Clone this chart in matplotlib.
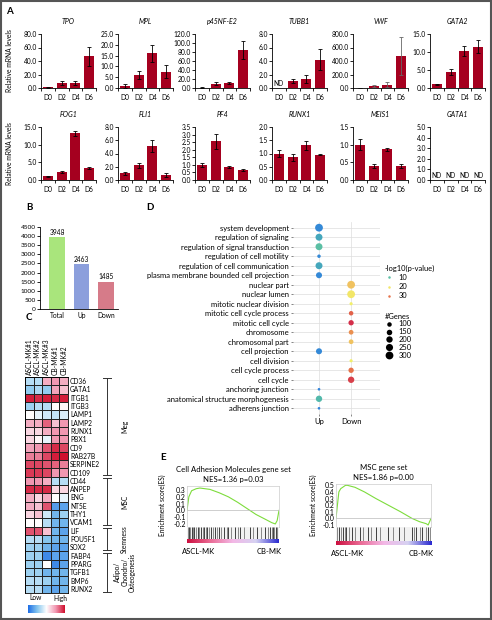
import matplotlib.pyplot as plt
import numpy as np
from matplotlib.colors import LinearSegmentedColormap, Normalize
from matplotlib.lines import Line2D
from matplotlib.patches import Rectangle

plt.rcParams['font.family'] = ['Lato', 'DejaVu Sans']
plt.rcParams['font.size'] = 5

W, H = 492, 620


def rect(x0, y0, x1, y1):
    # pixel box -> figure fraction
    return [x0 / W, 1 - y1 / H, (x1 - x0) / W, (y1 - y0) / H]


# --- panel A data ---
days = ['D0', 'D2', 'D4', 'D6']
tpo = [1, 8, 8, 47]; tpo_err = [0.5, 3, 3, 14]
mpl_ = [0.8, 6, 16, 7.5]; mpl_err = [1, 2, 4, 3]
p45 = [1, 10, 11, 84]; p45_err = [0.5, 3, 2, 20]
tubb1 = [0, 1.0, 1.4, 4.2]; tubb1_err = [0, 0.3, 0.6, 1.6]
vwf = [5, 30, 50, 475]; vwf_err = [2, 10, 40, 280]
gata2 = [1, 4.5, 10.3, 11.5]; gata2_err = [0.2, 0.9, 1.3, 1.8]
fog1 = [1, 2.2, 13.2, 3.4]; fog1_err = [0.1, 0.3, 0.8, 0.3]
fli1 = [1, 2.2, 5.2, 0.8]; fli1_err = [0.2, 0.4, 0.9, 0.3]
pf4 = [1.0, 2.55, 0.85, 0.65]; pf4_err = [0.12, 0.5, 0.05, 0.05]
runx1 = [1.0, 0.85, 1.32, 0.95]; runx1_err = [0.12, 0.12, 0.17, 0.02]
meis1 = [1.0, 0.4, 0.87, 0.4]; meis1_err = [0.15, 0.06, 0.04, 0.06]
gata1 = [0, 0, 0, 0]; gata1_err = [0, 0, 0, 0]

# --- panel B data ---
deg_cats = ['Total', 'Up', 'Down']
deg_counts = [3948, 2463, 1485]
deg_colors = ['#a9e57c', '#8c9fdc', '#d67b89']

# --- panel C data ---
samples = ['ASCL-MK#1', 'ASCL-MK#2', 'ASCL-MK#3', 'CB-MK#1', 'CB-MK#2']
hm_genes = ['CD36', 'GATA1', 'ITGB1', 'ITGB3', 'LAMP1', 'LAMP2', 'RUNX1', 'PBX1',
            'CD9', 'RAB27B', 'SERPINE2', 'CD109', 'CD44', 'ANPEP', 'ENG', 'NT5E',
            'THY1', 'VCAM1', 'LIF', 'POU5F1', 'SOX2', 'FABP4', 'PPARG', 'TGFB1',
            'BMP6', 'RUNX2']
hm_values = [
    [-0.3, -0.3, 0.4, 0.5, 0.4],
    [-0.45, -0.35, -0.45, 0.45, 0.3],
    [0.95, 0.9, 0.95, 0.9, 0.95],
    [-0.4, -0.3, -0.3, 0.0, 0.05],
    [0.0, -0.1, -0.2, -0.25, -0.15],
    [0.4, 0.4, 0.7, 0.3, 0.5],
    [0.2, 0.2, 0.4, 0.5, 0.5],
    [0.2, 0.05, -0.1, 0.5, 0.5],
    [0.45, 0.5, 0.75, 0.9, 0.8],
    [0.6, 0.6, 0.8, 0.95, 1.0],
    [0.8, 0.8, 0.75, 0.7, 0.6],
    [0.85, 0.85, 0.8, 0.5, 0.5],
    [0.5, 0.5, 0.4, -0.3, -0.3],
    [0.9, 0.9, 0.9, 0.2, 0.2],
    [0.4, 0.2, 0.4, 0.0, -0.1],
    [0.4, 0.3, 0.75, -0.75, -0.7],
    [0.2, 0.3, -0.2, -0.6, -0.4],
    [0.0, 0.0, -0.3, -0.6, -0.6],
    [0.75, 0.75, 0.3, -0.6, -0.7],
    [-0.3, -0.3, -0.5, -0.6, -0.6],
    [-0.4, -0.4, -0.6, -0.7, -0.7],
    [-0.4, -0.4, -0.85, -0.7, -0.7],
    [-0.4, -0.4, 0.0, -0.85, -0.7],
    [-0.4, -0.4, -0.6, -0.6, -0.6],
    [-0.3, -0.3, -0.4, -0.6, -0.6],
    [-0.3, -0.3, -0.6, -0.7, -0.6],
]
hm_groups = [('Meg', 0, 12), ('MSC', 12, 18), ('Stemness', 18, 21),
             ('Adipo/\nChondro/\nOsteogenesis', 21, 26)]

# --- panel D data ---
go_terms = ['system development', 'regulation of signaling',
            'regulation of signal transduction', 'regulation of cell motility',
            'regulation of cell communication',
            'plasma membrane bounded cell projection', 'nuclear part',
            'nuclear lumen', 'mitotic nuclear division',
            'mitotic cell cycle process', 'mitotic cell cycle', 'chromosome',
            'chromosomal part', 'cell projection', 'cell division',
            'cell cycle process', 'cell cycle', 'anchoring junction',
            'anatomical structure morphogenesis', 'adherens junction']
go_dir = ['Up', 'Up', 'Up', 'Up', 'Up', 'Up', 'Down', 'Down', 'Down', 'Down',
          'Down', 'Down', 'Down', 'Up', 'Down', 'Down', 'Down', 'Up', 'Up', 'Up']
go_logp = [4, 7, 10, 4, 7, 4, 24, 20, 19, 31, 34, 28, 24, 4, 19, 30, 33, 3.5, 9, 3.5]
go_ngenes = [300, 240, 240, 60, 240, 180, 300, 300, 50, 100, 140, 110, 110,
             180, 50, 140, 200, 35, 200, 35]

# --- panel E data ---
cam_rank = [0, 0.02, 0.05, 0.10, 0.14, 0.25, 0.35, 0.45, 0.55, 0.65, 0.75,
            0.85, 0.92, 0.96, 0.98, 1.0]
cam_es = [0.0, 0.2, 0.29, 0.32, 0.33, 0.31, 0.26, 0.2, 0.12, 0.03, -0.06,
          -0.13, -0.18, -0.2, -0.15, 0.0]
cam_hits = [0.01, 0.02, 0.035, 0.05, 0.07, 0.08, 0.10, 0.12, 0.13, 0.15, 0.17,
            0.19, 0.21, 0.22, 0.24, 0.26, 0.28, 0.30, 0.33, 0.35, 0.37, 0.40,
            0.43, 0.45, 0.48, 0.52, 0.55, 0.58, 0.62, 0.68, 0.72, 0.76, 0.80,
            0.85, 0.88, 0.90, 0.92, 0.94, 0.95, 0.97, 0.98]
msc_rank = [0, 0.03, 0.05, 0.10, 0.12, 0.2, 0.3, 0.42, 0.55, 0.68, 0.8, 0.88,
            0.95, 0.97, 1.0]
msc_es = [0.0, 0.4, 0.45, 0.5, 0.5, 0.47, 0.4, 0.3, 0.2, 0.1, 0.0, -0.05,
          -0.08, -0.1, 0.0]
msc_hits = [0.01, 0.03, 0.05, 0.07, 0.09, 0.11, 0.14, 0.17, 0.20, 0.25, 0.28,
            0.34, 0.37, 0.42, 0.46, 0.55, 0.60, 0.66, 0.72, 0.80, 0.82, 0.84,
            0.88, 0.91, 0.95, 0.97, 0.99]

bar_red = '#a5001f'

fig = plt.figure(figsize=(W / 100, H / 100), dpi=100)
fig.patches.append(Rectangle((0.002, 0.002), 0.996, 0.996, transform=fig.transFigure,
                             fill=False, edgecolor='#555555', linewidth=1.5))

# ---------------- panel A ----------------
row1 = [('TPO', tpo, tpo_err, 80, 20), ('MPL', mpl_, mpl_err, 25, 5),
        ('p45NF-E2', p45, p45_err, 120, 20), ('TUBB1', tubb1, tubb1_err, 8, 2),
        ('VWF', vwf, vwf_err, 800, 200), ('GATA2', gata2, gata2_err, 15, 5)]
row2 = [('FOG1', fog1, fog1_err, 15, 5), ('FLI1', fli1, fli1_err, 8, 2),
        ('PF4', pf4, pf4_err, 3.5, 0.5), ('RUNX1', runx1, runx1_err, 2, 0.5),
        ('MEIS1', meis1, meis1_err, 1.5, 0.5), ('GATA1', gata1, gata1_err, 5, 1)]
xlefts = [41, 118, 195, 272, 353, 430]
for row, (ytop, ybot) in zip([row1, row2], [(34, 88), (127, 180)]):
    for (name, vals, errs, ymax, step), xl in zip(row, xlefts):
        ax = fig.add_axes(rect(xl, ytop, xl + 55, ybot))
        x = np.arange(len(days))
        nd = [name == 'GATA1' or (name == 'TUBB1' and i == 0) for i in range(4)]
        ecol = '#666666' if name == 'VWF' else 'black'
        for i in range(4):
            if nd[i]:
                ax.text(x[i], ymax * 0.02, 'ND', ha='center', va='bottom', fontsize=4.8)
            else:
                ax.bar(x[i], vals[i], width=0.72, color=bar_red)
                ax.errorbar(x[i], vals[i], yerr=errs[i], color=ecol, capsize=1.6,
                            elinewidth=0.6, capthick=0.6)
        ax.set_xlim(-0.5, 3.5)
        ax.set_ylim(0, ymax)
        ax.set_yticks(np.arange(0, ymax + step / 2, step))
        ax.set_yticklabels(['%.1f' % v for v in np.arange(0, ymax + step / 2, step)])
        ax.set_xticks(x)
        ax.set_xticklabels(days)
        ax.set_xticks(np.arange(-0.5, 4, 1), minor=True)
        ax.tick_params(axis='x', which='major', length=0, pad=4, labelsize=4.8)
        ax.tick_params(axis='x', which='minor', length=2, width=0.6)
        ax.tick_params(axis='y', length=2, width=0.6, pad=1, labelsize=4.8)
        for s in ['top', 'right']:
            ax.spines[s].set_visible(False)
        for s in ['left', 'bottom']:
            ax.spines[s].set_linewidth(0.6)
        ax.set_title(name, fontsize=5, style='italic', pad=7)
    fig.text(10 / W, 1 - (ytop + ybot) / 2 / H, 'Relative mRNA levels', rotation=90,
             ha='center', va='center', fontsize=4.8)
fig.text(6 / W, 1 - 12 / H, 'A', fontsize=7, fontweight='bold', va='center')

# ---------------- panel B ----------------
axb = fig.add_axes(rect(40, 227, 118, 309))
axb.bar(range(3), deg_counts, width=0.65, color=deg_colors)
for i, v in enumerate(deg_counts):
    axb.text(i, v + 80, str(v), ha='center', va='bottom', fontsize=4.8)
axb.set_xlim(-0.7, 2.5)
axb.set_ylim(0, 4500)
axb.set_yticks(np.arange(0, 4501, 500))
axb.set_xticks(range(3))
axb.set_xticklabels(deg_cats)
axb.tick_params(axis='x', length=0, pad=2, labelsize=4.8)
axb.tick_params(axis='y', length=2, width=0.6, pad=1, labelsize=4.6)
for s in ['top', 'right']:
    axb.spines[s].set_visible(False)
for s in ['left', 'bottom']:
    axb.spines[s].set_linewidth(0.6)
fig.text(26 / W, 1 - 208 / H, 'B', fontsize=7, fontweight='bold', va='center')

# ---------------- panel C ----------------
hm_cmap = LinearSegmentedColormap.from_list(
    'bwr2', ['#1f6fe6', '#86c6ee', '#ffffff', '#f199b3', '#d0102e'])
axc = fig.add_axes(rect(25, 377, 68, 593))
axc.pcolormesh(np.array(hm_values), cmap=hm_cmap, vmin=-1, vmax=1,
               edgecolors='#222222', linewidth=0.5)
axc.set_ylim(len(hm_genes), 0)
axc.set_xticks(np.arange(len(samples)) + 0.5)
axc.set_xticklabels(samples, rotation=90)
axc.xaxis.tick_top()
axc.set_yticks(np.arange(len(hm_genes)) + 0.5)
axc.set_yticklabels(hm_genes)
axc.yaxis.tick_right()
axc.tick_params(length=0, pad=1.5, labelsize=4.8)
for s in axc.spines.values():
    s.set_linewidth(0.6)
fig.text(26 / W, 1 - 318 / H, 'C', fontsize=7, fontweight='bold', va='center')

axbr = fig.add_axes(rect(100, 377, 140, 593))
axbr.set_xlim(0, 1)
axbr.set_ylim(len(hm_genes), 0)
axbr.axis('off')
for label, g0, g1 in hm_groups:
    axbr.plot([0.18, 0.18], [g0 + 0.15, g1 - 0.15], color='#333333', lw=0.7)
    for yy in [g0 + 0.15, g1 - 0.15]:
        axbr.plot([0.08, 0.28], [yy, yy], color='#333333', lw=0.7)
    axbr.text(0.62, (g0 + g1) / 2, label, rotation=90, ha='center', va='center',
              fontsize=4.8, linespacing=1.0)

axcb = fig.add_axes(rect(28, 605, 65, 613))
axcb.imshow(np.linspace(-1, 1, 100)[None, :], cmap=hm_cmap, aspect='auto')
axcb.set_xticks([])
axcb.set_yticks([])
for s in axcb.spines.values():
    s.set_visible(False)
fig.text(36 / W, 1 - 598 / H, 'Low', ha='center', va='center', fontsize=4.8)
fig.text(60 / W, 1 - 598 / H, 'High', ha='center', va='center', fontsize=4.8)

# ---------------- panel D ----------------
go_cmap = LinearSegmentedColormap.from_list(
    'go', ['#2f7fe0', '#4cb4b0', '#7ad88a', '#f2f06a', '#f0c060', '#e87a4a', '#d0204a'])
go_norm = Normalize(vmin=3, vmax=35)
axd = fig.add_axes(rect(293, 222, 380, 414))
xpos = [0 if d == 'Up' else 1 for d in go_dir]
ypos = np.arange(len(go_terms))
axd.scatter(xpos, ypos, s=np.array(go_ngenes) * 0.105, c=go_logp, cmap=go_cmap,
            norm=go_norm, zorder=3, linewidths=0)
axd.set_xlim(-0.81, 1.9)
axd.set_ylim(len(go_terms) - 0.4, -0.6)
axd.set_yticks(ypos)
axd.set_yticklabels(go_terms)
axd.set_xticks([0, 1])
axd.set_xticklabels(['Up', 'Down'])
axd.grid(True, color='#dddddd', linewidth=0.5)
axd.set_axisbelow(True)
axd.tick_params(axis='y', length=1.5, width=0.5, color='#555555', pad=1.5, labelsize=5.5)
axd.tick_params(axis='x', length=1.5, width=0.5, color='#555555', pad=1.5, labelsize=5.5)
for s in axd.spines.values():
    s.set_visible(False)
fig.text(146 / W, 1 - 208 / H, 'D', fontsize=7, fontweight='bold', va='center')

col_handles = [Line2D([], [], marker='o', ls='', markersize=1.8, markeredgewidth=0,
                      color=go_cmap(go_norm(v))) for v in [10, 20, 30]]
leg1 = axd.legend(col_handles, ['10', '20', '30'], title='-log10(p-value)',
                  loc='upper left', bbox_to_anchor=(381 / W, 1 - 261 / H),
                  bbox_transform=fig.transFigure, frameon=False, fontsize=5.4,
                  title_fontsize=5.4, alignment='left', handletextpad=0.6,
                  labelspacing=0.28, borderpad=0, handlelength=1.2)
axd.add_artist(leg1)
size_vals = [100, 150, 200, 250, 300]
size_handles = [Line2D([], [], marker='o', ls='', color='black', markeredgewidth=0,
                       markersize=np.sqrt(v * 0.105)) for v in size_vals]
axd.legend(size_handles, [str(v) for v in size_vals], title='#Genes',
           loc='upper left', bbox_to_anchor=(381 / W, 1 - 309 / H),
           bbox_transform=fig.transFigure, frameon=False, fontsize=5.4,
           title_fontsize=5.4, alignment='left', handletextpad=0.6,
           labelspacing=0.1, borderpad=0, handlelength=1.2)

# ---------------- panel E ----------------
gsea_cmap = LinearSegmentedColormap.from_list(
    'gsea', ['#cc1040', '#ea6a94', '#f3b8e6', '#d6d2f2', '#2a2ad0'])


def gsea(x0, x1, ytop, ybar, ygrad, ybot, rank, es, hits, ylim, ticks, title):
    ax = fig.add_axes(rect(x0, ytop, x1, ybar))
    ax.plot(rank, es, color='#7ddc3c', lw=0.8)
    ax.axhline(0, color='#bbbbbb', lw=0.5)
    ax.set_xlim(0, 1)
    ax.set_ylim(*ylim)
    ax.set_xticks([])
    ax.set_yticks(ticks)
    ax.set_yticklabels(['%.1f' % t for t in ticks])
    ax.tick_params(axis='y', length=0, pad=1, labelsize=5)
    for s in ax.spines.values():
        s.set_color('#cccccc')
        s.set_linewidth(0.5)
    ax.set_title(title, fontsize=5.6, pad=3, linespacing=1.4)
    axh = fig.add_axes(rect(x0, ybar, x1, ygrad))
    axh.set_facecolor('#f2f2f2')
    axh.vlines(hits, 0, 1, colors=['#222222' if i % 2 else '#777777'
                                  for i in range(len(hits))], lw=0.6)
    axh.set_xlim(0, 1)
    axh.set_ylim(0, 1)
    axh.set_xticks([])
    axh.set_yticks([])
    for s in axh.spines.values():
        s.set_visible(False)
    axg = fig.add_axes(rect(x0, ygrad, x1, ybot))
    axg.imshow(np.linspace(0, 1, 200)[None, :], cmap=gsea_cmap, aspect='auto')
    axg.axis('off')
    fig.text((x0 + 12) / W, 1 - (ybot + 8) / H, 'ASCL-MK', ha='center', va='center',
             fontsize=5.5)
    fig.text((x1 - 10) / W, 1 - (ybot + 8) / H, 'CB-MK', ha='center', va='center',
             fontsize=5.5)
    return ax


gsea(187, 279, 486, 527, 539, 543, cam_rank, cam_es, cam_hits, (-0.245, 0.36),
     [-0.2, -0.1, 0.0, 0.1, 0.2, 0.3], 'Cell Adhesion Molecules gene set\nNES=1.36 p=0.03')
gsea(336, 431, 484, 527, 541, 545, msc_rank, msc_es, msc_hits, (-0.13, 0.52),
     [-0.1, 0.0, 0.1, 0.2, 0.3, 0.4, 0.5], 'MSC gene set\nNES=1.86 p=0.00')
fig.text(162 / W, 1 - 505 / H, 'Enrichment score(ES)', rotation=90, ha='center',
         va='center', fontsize=4.8)
fig.text(313 / W, 1 - 505 / H, 'Enrichment score(ES)', rotation=90, ha='center',
         va='center', fontsize=4.8)
fig.text(160 / W, 1 - 458 / H, 'E', fontsize=7, fontweight='bold', va='center')

fig.savefig('out.png', dpi=100)
